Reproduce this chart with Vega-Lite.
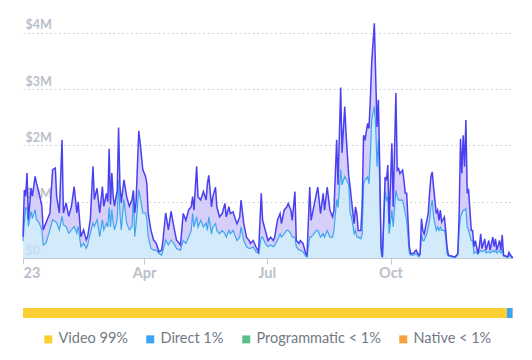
{
  "$schema": "https://vega.github.io/schema/vega-lite/v6.json",
  "padding": {"left": 20, "top": 16, "right": 22, "bottom": 5},
  "config": {"view": {"stroke": null}, "font": "Lato", "concat": {"spacing": 28}},
  "vconcat": [
    {
      "width": 490,
      "height": 242,
      "data": {"values": [
        {"date":"2023-01-01","total":0.38,"sub":0.3},{"date":"2023-01-02","total":1.21,"sub":0.62},{"date":"2023-01-03","total":1.1,"sub":0.89},{"date":"2023-01-04","total":1.51,"sub":0.89},{"date":"2023-01-05","total":0.68,"sub":0.56},{"date":"2023-01-07","total":1.24,"sub":0.83},{"date":"2023-01-08","total":1.1,"sub":0.7},{"date":"2023-01-10","total":1.45,"sub":0.86},{"date":"2023-01-11","total":1.33,"sub":0.68},{"date":"2023-01-13","total":1.15,"sub":0.62},{"date":"2023-01-15","total":0.92,"sub":0.5},{"date":"2023-01-16","total":0.5,"sub":0.23},{"date":"2023-01-18","total":0.62,"sub":0.26},{"date":"2023-01-21","total":0.8,"sub":0.5},{"date":"2023-01-23","total":1.57,"sub":0.68},{"date":"2023-01-25","total":1.6,"sub":0.65},{"date":"2023-01-26","total":1.09,"sub":0.62},{"date":"2023-01-28","total":0.8,"sub":0.5},{"date":"2023-01-30","total":2.1,"sub":0.74},{"date":"2023-01-31","total":0.8,"sub":0.59},
        {"date":"2023-02-02","total":0.98,"sub":0.56},{"date":"2023-02-04","total":0.74,"sub":0.44},{"date":"2023-02-06","total":0.92,"sub":0.5},{"date":"2023-02-08","total":1.27,"sub":0.56},{"date":"2023-02-10","total":0.8,"sub":0.44},{"date":"2023-02-11","total":1.0,"sub":0.56},{"date":"2023-02-13","total":0.38,"sub":0.2},{"date":"2023-02-15","total":0.5,"sub":0.26},{"date":"2023-02-17","total":0.32,"sub":0.17},{"date":"2023-02-18","total":0.38,"sub":0.23},{"date":"2023-02-20","total":0.68,"sub":0.44},{"date":"2023-02-22","total":1.63,"sub":0.62},{"date":"2023-02-23","total":1.04,"sub":0.56},{"date":"2023-02-25","total":1.24,"sub":0.68},{"date":"2023-02-27","total":0.8,"sub":0.38},
        {"date":"2023-03-01","total":1.27,"sub":0.68},{"date":"2023-03-02","total":0.92,"sub":0.5},{"date":"2023-03-04","total":1.15,"sub":0.62},{"date":"2023-03-05","total":1.0,"sub":0.55},{"date":"2023-03-06","total":1.94,"sub":0.9},{"date":"2023-03-07","total":0.95,"sub":0.55},{"date":"2023-03-08","total":1.51,"sub":0.86},{"date":"2023-03-09","total":1.09,"sub":0.62},{"date":"2023-03-10","total":0.92,"sub":0.5},{"date":"2023-03-12","total":1.21,"sub":0.68},{"date":"2023-03-13","total":2.32,"sub":1.39},{"date":"2023-03-14","total":1.3,"sub":0.8},{"date":"2023-03-15","total":0.98,"sub":0.5},{"date":"2023-03-17","total":1.39,"sub":1.04},{"date":"2023-03-19","total":1.09,"sub":0.62},{"date":"2023-03-21","total":0.92,"sub":0.5},{"date":"2023-03-23","total":1.04,"sub":0.56},{"date":"2023-03-24","total":1.2,"sub":1.1},{"date":"2023-03-25","total":0.8,"sub":0.38},{"date":"2023-03-26","total":1.0,"sub":0.6},{"date":"2023-03-28","total":2.26,"sub":1.21},{"date":"2023-03-29","total":2.05,"sub":1.09},{"date":"2023-03-31","total":1.57,"sub":0.8},
        {"date":"2023-04-02","total":1.45,"sub":0.8},{"date":"2023-04-03","total":1.33,"sub":0.68},{"date":"2023-04-04","total":0.8,"sub":0.38},{"date":"2023-04-06","total":0.5,"sub":0.17},{"date":"2023-04-08","total":0.32,"sub":0.14},{"date":"2023-04-10","total":0.26,"sub":0.14},{"date":"2023-04-12","total":0.11,"sub":0.08},{"date":"2023-04-14","total":0.14,"sub":0.05},{"date":"2023-04-15","total":0.32,"sub":0.14},{"date":"2023-04-17","total":0.8,"sub":0.32},{"date":"2023-04-19","total":0.5,"sub":0.23},{"date":"2023-04-21","total":0.83,"sub":0.32},{"date":"2023-04-23","total":0.56,"sub":0.26},{"date":"2023-04-25","total":0.32,"sub":0.17},{"date":"2023-04-28","total":0.23,"sub":0.14},{"date":"2023-04-30","total":0.79,"sub":0.31},
        {"date":"2023-05-02","total":0.67,"sub":0.26},{"date":"2023-05-04","total":0.85,"sub":0.37},{"date":"2023-05-06","total":0.91,"sub":0.49},{"date":"2023-05-07","total":1.09,"sub":0.79},{"date":"2023-05-08","total":0.85,"sub":0.55},{"date":"2023-05-10","total":1.63,"sub":0.73},{"date":"2023-05-11","total":1.09,"sub":0.55},{"date":"2023-05-13","total":1.03,"sub":0.67},{"date":"2023-05-15","total":1.18,"sub":0.55},{"date":"2023-05-17","total":1.03,"sub":0.62},{"date":"2023-05-18","total":1.32,"sub":0.49},{"date":"2023-05-19","total":1.47,"sub":0.73},{"date":"2023-05-21","total":0.91,"sub":0.43},{"date":"2023-05-22","total":1.09,"sub":0.55},{"date":"2023-05-24","total":1.26,"sub":0.61},{"date":"2023-05-25","total":0.91,"sub":0.49},{"date":"2023-05-27","total":0.73,"sub":0.43},{"date":"2023-05-29","total":0.79,"sub":0.49},{"date":"2023-05-31","total":0.97,"sub":0.43},
        {"date":"2023-06-01","total":0.73,"sub":0.37},{"date":"2023-06-03","total":0.91,"sub":0.49},{"date":"2023-06-04","total":0.79,"sub":0.43},{"date":"2023-06-06","total":0.82,"sub":0.49},{"date":"2023-06-08","total":0.67,"sub":0.37},{"date":"2023-06-09","total":0.61,"sub":0.31},{"date":"2023-06-11","total":0.73,"sub":0.37},{"date":"2023-06-12","total":1.03,"sub":0.55},{"date":"2023-06-14","total":0.61,"sub":0.31},{"date":"2023-06-16","total":0.37,"sub":0.2},{"date":"2023-06-18","total":0.31,"sub":0.17},{"date":"2023-06-19","total":0.26,"sub":0.17},{"date":"2023-06-21","total":0.31,"sub":0.2},{"date":"2023-06-23","total":0.2,"sub":0.11},{"date":"2023-06-25","total":0.11,"sub":0.08},{"date":"2023-06-27","total":1.15,"sub":0.37},{"date":"2023-06-28","total":0.67,"sub":0.37},{"date":"2023-06-30","total":0.49,"sub":0.26},
        {"date":"2023-07-02","total":0.31,"sub":0.2},{"date":"2023-07-04","total":0.37,"sub":0.23},{"date":"2023-07-06","total":0.31,"sub":0.2},{"date":"2023-07-07","total":0.37,"sub":0.23},{"date":"2023-07-09","total":0.67,"sub":0.31},{"date":"2023-07-11","total":0.79,"sub":0.43},{"date":"2023-07-12","total":0.61,"sub":0.37},{"date":"2023-07-14","total":0.85,"sub":0.43},{"date":"2023-07-16","total":0.91,"sub":0.49},{"date":"2023-07-17","total":0.97,"sub":0.49},{"date":"2023-07-19","total":0.85,"sub":0.43},{"date":"2023-07-20","total":0.67,"sub":0.37},{"date":"2023-07-22","total":1.18,"sub":0.37},{"date":"2023-07-23","total":0.31,"sub":0.2},{"date":"2023-07-25","total":0.26,"sub":0.14},{"date":"2023-07-26","total":0.31,"sub":0.14},{"date":"2023-07-28","total":0.26,"sub":0.11},{"date":"2023-07-30","total":0.08,"sub":0.03},{"date":"2023-07-31","total":0.05,"sub":0.02},
        {"date":"2023-08-02","total":1.26,"sub":0.37},{"date":"2023-08-03","total":0.67,"sub":0.37},{"date":"2023-08-05","total":0.91,"sub":0.43},{"date":"2023-08-07","total":1.15,"sub":0.49},{"date":"2023-08-08","total":1.26,"sub":0.49},{"date":"2023-08-10","total":0.79,"sub":0.37},{"date":"2023-08-12","total":1.15,"sub":0.43},{"date":"2023-08-13","total":0.85,"sub":0.37},{"date":"2023-08-15","total":1.26,"sub":0.49},{"date":"2023-08-17","total":0.85,"sub":0.37},{"date":"2023-08-19","total":0.73,"sub":0.37},{"date":"2023-08-20","total":0.85,"sub":0.49},{"date":"2023-08-22","total":2.1,"sub":1.04},{"date":"2023-08-23","total":1.3,"sub":0.9},{"date":"2023-08-25","total":3.03,"sub":1.57},{"date":"2023-08-26","total":1.87,"sub":1.3},{"date":"2023-08-28","total":2.69,"sub":1.45},{"date":"2023-08-29","total":2.2,"sub":1.4},{"date":"2023-08-31","total":1.45,"sub":1.3},
        {"date":"2023-09-01","total":1.27,"sub":0.8},{"date":"2023-09-02","total":1.03,"sub":0.73},{"date":"2023-09-04","total":0.61,"sub":0.43},{"date":"2023-09-05","total":0.91,"sub":0.49},{"date":"2023-09-06","total":0.79,"sub":0.37},{"date":"2023-09-07","total":0.49,"sub":0.37},{"date":"2023-09-09","total":0.49,"sub":0.34},{"date":"2023-09-10","total":0.97,"sub":0.43},{"date":"2023-09-11","total":2.18,"sub":1.32},{"date":"2023-09-12","total":2.09,"sub":1.38},{"date":"2023-09-14","total":2.39,"sub":1.44},{"date":"2023-09-15","total":2.3,"sub":1.32},{"date":"2023-09-16","total":2.81,"sub":1.8},{"date":"2023-09-17","total":3.46,"sub":2.45},{"date":"2023-09-19","total":4.17,"sub":2.69},{"date":"2023-09-20","total":3.22,"sub":2.33},{"date":"2023-09-21","total":2.33,"sub":1.62},{"date":"2023-09-22","total":2.81,"sub":2.09},{"date":"2023-09-23","total":1.62,"sub":1.26},{"date":"2023-09-24","total":0.2,"sub":0.08},{"date":"2023-09-25","total":0.02,"sub":0.01},{"date":"2023-09-27","total":1.44,"sub":1.2},{"date":"2023-09-28","total":1.38,"sub":1.03},{"date":"2023-09-29","total":1.65,"sub":1.09},{"date":"2023-09-30","total":0.61,"sub":0.43},
        {"date":"2023-10-02","total":2.04,"sub":0.85},{"date":"2023-10-03","total":0.91,"sub":0.55},{"date":"2023-10-05","total":2.93,"sub":1.2},{"date":"2023-10-06","total":1.56,"sub":1.09},{"date":"2023-10-07","total":1.59,"sub":1.03},{"date":"2023-10-08","total":1.5,"sub":1.03},{"date":"2023-10-10","total":1.56,"sub":1.03},{"date":"2023-10-11","total":1.38,"sub":0.91},{"date":"2023-10-12","total":1.15,"sub":0.79},{"date":"2023-10-13","total":1.15,"sub":0.67},{"date":"2023-10-15","total":0.2,"sub":0.08},{"date":"2023-10-16","total":0.08,"sub":0.05},{"date":"2023-10-18","total":0.08,"sub":0.05},{"date":"2023-10-20","total":0.14,"sub":0.08},{"date":"2023-10-22","total":0.05,"sub":0.02},{"date":"2023-10-23","total":0.08,"sub":0.05},{"date":"2023-10-24","total":0.7,"sub":0.43},{"date":"2023-10-25","total":0.49,"sub":0.31},{"date":"2023-10-26","total":0.43,"sub":0.31},{"date":"2023-10-28","total":0.67,"sub":0.43},{"date":"2023-10-29","total":0.79,"sub":0.55},{"date":"2023-10-30","total":1.15,"sub":0.67},{"date":"2023-10-31","total":1.44,"sub":0.91},
        {"date":"2023-11-01","total":1.53,"sub":1.03},{"date":"2023-11-02","total":1.26,"sub":0.73},{"date":"2023-11-04","total":0.79,"sub":0.49},{"date":"2023-11-05","total":0.85,"sub":0.55},{"date":"2023-11-06","total":0.67,"sub":0.49},{"date":"2023-11-07","total":0.85,"sub":0.55},{"date":"2023-11-08","total":0.64,"sub":0.49},{"date":"2023-11-10","total":0.73,"sub":0.49},{"date":"2023-11-11","total":0.49,"sub":0.37},{"date":"2023-11-12","total":0.2,"sub":0.08},{"date":"2023-11-13","total":0.05,"sub":0.03},{"date":"2023-11-16","total":0.03,"sub":0.02},{"date":"2023-11-18","total":0.02,"sub":0.01},{"date":"2023-11-20","total":0.08,"sub":0.05},{"date":"2023-11-21","total":0.79,"sub":0.49},{"date":"2023-11-22","total":2.12,"sub":0.73},{"date":"2023-11-23","total":1.5,"sub":0.79},{"date":"2023-11-24","total":2.18,"sub":0.85},{"date":"2023-11-25","total":1.62,"sub":0.85},{"date":"2023-11-26","total":2.45,"sub":0.88},{"date":"2023-11-27","total":1.15,"sub":0.55},{"date":"2023-11-28","total":1.2,"sub":0.49},{"date":"2023-11-30","total":0.49,"sub":0.31},
        {"date":"2023-12-01","total":0.49,"sub":0.31},{"date":"2023-12-02","total":0.2,"sub":0.08},{"date":"2023-12-03","total":0.31,"sub":0.11},{"date":"2023-12-05","total":0.08,"sub":0.07},{"date":"2023-12-06","total":0.2,"sub":0.11},{"date":"2023-12-07","total":0.43,"sub":0.14},{"date":"2023-12-08","total":0.17,"sub":0.11},{"date":"2023-12-10","total":0.34,"sub":0.14},{"date":"2023-12-11","total":0.14,"sub":0.09},{"date":"2023-12-13","total":0.31,"sub":0.11},{"date":"2023-12-14","total":0.14,"sub":0.09},{"date":"2023-12-16","total":0.37,"sub":0.13},{"date":"2023-12-17","total":0.2,"sub":0.11},{"date":"2023-12-18","total":0.34,"sub":0.14},{"date":"2023-12-19","total":0.14,"sub":0.09},{"date":"2023-12-21","total":0.31,"sub":0.13},{"date":"2023-12-22","total":0.14,"sub":0.09},{"date":"2023-12-23","total":0.41,"sub":0.14},{"date":"2023-12-24","total":0.05,"sub":0.03},{"date":"2023-12-26","total":0.03,"sub":0.02},{"date":"2023-12-27","total":0.02,"sub":0.01},{"date":"2023-12-28","total":0.1,"sub":0.05},{"date":"2023-12-30","total":0.02,"sub":0.01},{"date":"2023-12-31","total":0.01,"sub":0.01}
      ]},
      "encoding": {
        "x": {
          "field": "date", "type": "temporal",
          "scale": {"type": "utc", "domain": [{"year": 2023, "month": 1, "date": 1, "utc": true}, {"year": 2023, "month": 12, "date": 31, "utc": true}]},
          "axis": {
            "title": null, "grid": false,
            "values": [{"year": 2023, "month": 1, "date": 1, "utc": true}, {"year": 2023, "month": 4, "date": 1, "utc": true}, {"year": 2023, "month": 7, "date": 1, "utc": true}, {"year": 2023, "month": 10, "date": 1, "utc": true}],
            "labelExpr": "utcFormat(datum.value, '%m') == '01' ? utcFormat(datum.value, '%y') : utcFormat(datum.value, '%b')",
            "labelFlush": true,
            "domainColor": "#c3c8d0", "tickColor": "#c3c8d0", "tickSize": 6, "labelPadding": 2,
            "labelFont": "Lato", "labelFontSize": 14.5, "labelFontWeight": "bold", "labelColor": "#b9c0cb"
          }
        }
      },
      "layer": [
        {
          "mark": {"type": "area", "color": "#c8e5fa", "opacity": 0.8},
          "encoding": {
            "y": {
              "field": "sub", "type": "quantitative",
              "scale": {"domain": [0, 4.3], "nice": false},
              "axis": {
                "title": null, "values": [0, 1, 2, 3, 4],
                "labelExpr": "datum.value == 0 ? '$0' : '$' + datum.value + 'M'",
                "domain": false, "ticks": false, "tickSize": 0,
                "labelAlign": "left", "labelPadding": -2, "labelBaseline": "alphabetic", "labelOffset": -4,
                "labelFont": "Lato", "labelFontSize": 12.5, "labelFontWeight": "bold", "labelColor": "#b9c0cb",
                "gridColor": "#c8ccd2", "gridDash": [1.5, 3], "gridWidth": 1.2,
                "minExtent": 0, "maxExtent": 0
              }
            }
          }
        },
        {
          "mark": {"type": "area", "color": "#ccc3f9", "opacity": 0.8},
          "encoding": {
            "y": {"field": "total", "type": "quantitative"},
            "y2": {"field": "sub"}
          }
        },
        {
          "mark": {"type": "line", "color": "#3ea6ef", "strokeWidth": 1.2},
          "encoding": {"y": {"field": "sub", "type": "quantitative"}}
        },
        {
          "mark": {"type": "line", "color": "#4a40f0", "strokeWidth": 1.5},
          "encoding": {"y": {"field": "total", "type": "quantitative"}}
        }
      ]
    },
    {
      "width": 490,
      "height": 10,
      "data": {"values": [
        {"type": "Video 99%", "share": 98.75, "rank": 1},
        {"type": "Direct 1%", "share": 1.15, "rank": 2},
        {"type": "Programmatic < 1%", "share": 0.05, "rank": 3},
        {"type": "Native < 1%", "share": 0.05, "rank": 4}
      ]},
      "mark": {"type": "bar", "height": 10},
      "encoding": {
        "x": {"field": "share", "type": "quantitative", "stack": "zero", "scale": {"domain": [0, 100], "nice": false}, "axis": null},
        "order": {"field": "rank"},
        "color": {
          "field": "type", "type": "nominal",
          "scale": {"domain": ["Video 99%", "Direct 1%", "Programmatic < 1%", "Native < 1%"], "range": ["#fbcf33", "#3ba4f4", "#58c08f", "#f5a03a"]},
          "legend": {
            "orient": "none", "legendX": 18, "legendY": 316, "direction": "horizontal", "title": null,
            "symbolType": "square", "symbolSize": 64, "symbolStrokeWidth": 0, "labelOffset": 3,
            "labelFont": "Lato", "labelFontSize": 14.5, "labelColor": "#727985",
            "columnPadding": 15
          }
        }
      }
    }
  ]
}
